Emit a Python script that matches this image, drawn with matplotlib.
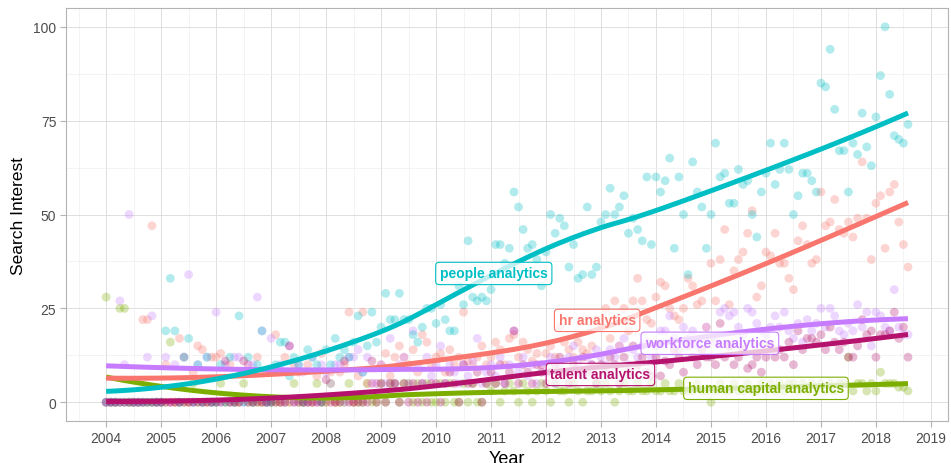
import numpy as np
import matplotlib
matplotlib.use("Agg")
import matplotlib.pyplot as plt
from matplotlib.ticker import MultipleLocator

plt.rcParams['font.family'] = ['Liberation Sans', 'DejaVu Sans']

# monthly Google Trends style values, Jan 2004 - Aug 2018
people = [
    0, 0, 0, 0, 0, 0, 0, 0, 0, 0, 0, 0,
    0, 19, 33, 19, 0, 12, 17, 0, 10, 0, 12, 0,
    0, 10, 0, 12, 0, 23, 0, 12, 0, 10, 19, 0,
    0, 10, 16, 16, 7, 12, 10, 0, 14, 12, 10, 0,
    14, 10, 17, 12, 14, 12, 16, 23, 8, 15, 24, 16,
    20, 29, 22, 22, 29, 22, 22, 18, 16, 20, 25, 25,
    21, 26, 22, 19, 19, 31, 26, 43, 28, 27, 28, 27,
    30, 42, 42, 37, 41, 56, 52, 46, 41, 42, 38, 31,
    40, 50, 45, 49, 47, 36, 42, 33, 34, 52, 34, 36,
    48, 50, 57, 50, 52, 55, 45, 49, 46, 43, 60, 42,
    60, 56, 59, 65, 41, 60, 50, 34, 64, 56, 52, 41,
    50, 69, 60, 61, 53, 53, 62, 58, 59, 50, 44, 56,
    61, 69, 58, 62, 69, 62, 50, 55, 61, 61, 59, 56,
    85, 84, 94, 78, 67, 67, 56, 69, 66, 77, 68, 63,
    76, 87, 100, 82, 71, 70, 69, 74,
]
hr = [
    0, 0, 0, 0, 0, 0, 0, 0, 22, 22, 47, 0,
    0, 10, 0, 0, 17, 12, 0, 8, 15, 14, 0, 12,
    12, 13, 0, 10, 0, 0, 8, 10, 0, 12, 0, 0,
    8, 18, 0, 12, 0, 10, 8, 0, 10, 0, 7, 13,
    0, 8, 0, 8, 10, 24, 0, 7, 24, 5, 5, 5,
    10, 13, 7, 12, 15, 12, 10, 14, 8, 18, 16, 10,
    12, 13, 8, 14, 10, 12, 24, 11, 10, 12, 15, 10,
    12, 16, 14, 10, 17, 18, 12, 16, 14, 11, 13, 10,
    13, 15, 12, 20, 16, 14, 12, 16, 14, 13, 15, 22,
    20, 25, 17, 27, 15, 25, 19, 27, 33, 27, 22, 21,
    28, 32, 31, 25, 23, 22, 25, 33, 31, 26, 27, 20,
    37, 27, 38, 46, 26, 35, 38, 40, 45, 51, 28, 31,
    40, 39, 45, 37, 37, 33, 30, 43, 47, 42, 37, 38,
    56, 47, 48, 54, 46, 45, 48, 44, 49, 64, 49, 38,
    53, 55, 41, 56, 58, 48, 42, 36,
]
workforce = [
    0, 0, 0, 27, 10, 50, 0, 0, 0, 12, 23, 0,
    0, 12, 0, 10, 0, 12, 34, 0, 10, 0, 12, 0,
    24, 0, 10, 0, 12, 12, 0, 10, 10, 28, 19, 0,
    17, 9, 10, 0, 15, 0, 10, 8, 0, 12, 0, 10,
    8, 5, 10, 10, 0, 12, 12, 14, 8, 12, 5, 5,
    10, 5, 17, 5, 10, 12, 5, 19, 10, 5, 12, 7,
    10, 15, 5, 10, 8, 5, 10, 7, 11, 17, 5, 8,
    10, 7, 12, 5, 10, 19, 8, 12, 7, 10, 5, 10,
    8, 12, 5, 10, 8, 12, 15, 10, 7, 12, 10, 14,
    12, 10, 14, 12, 15, 17, 10, 14, 12, 15, 16, 12,
    15, 19, 19, 23, 17, 14, 20, 17, 19, 15, 17, 20,
    17, 16, 24, 25, 23, 24, 20, 18, 25, 24, 21, 19,
    18, 20, 23, 20, 24, 19, 17, 21, 16, 22, 19, 21,
    25, 20, 25, 23, 19, 18, 21, 19, 26, 20, 24, 15,
    24, 23, 20, 19, 30, 20, 18, 18,
]
talent = [
    0, 0, 0, 0, 0, 0, 0, 0, 0, 0, 0, 0,
    0, 0, 0, 0, 0, 0, 0, 0, 0, 0, 0, 0,
    0, 0, 11, 0, 0, 0, 11, 0, 0, 0, 0, 0,
    0, 0, 0, 0, 15, 0, 0, 0, 0, 0, 0, 0,
    6, 0, 0, 0, 11, 0, 0, 0, 0, 0, 11, 0,
    5, 0, 5, 5, 0, 5, 0, 5, 0, 5, 0, 5,
    5, 0, 5, 8, 5, 0, 10, 5, 5, 8, 0, 5,
    8, 5, 10, 5, 8, 19, 5, 10, 8, 5, 10, 8,
    5, 8, 10, 12, 8, 5, 10, 8, 12, 8, 10, 5,
    10, 8, 12, 10, 5, 12, 8, 15, 10, 12, 8, 7,
    12, 7, 11, 10, 14, 12, 8, 15, 12, 10, 14, 12,
    12, 10, 21, 12, 15, 10, 12, 14, 9, 10, 12, 8,
    12, 15, 12, 14, 12, 16, 10, 19, 14, 17, 17, 16,
    18, 14, 20, 16, 14, 16, 12, 12, 15, 22, 18, 19,
    12, 18, 18, 19, 24, 17, 20, 12,
]
human_capital = [
    28, 0, 0, 25, 25, 0, 0, 0, 0, 0, 0, 0,
    0, 0, 16, 0, 0, 0, 0, 5, 0, 0, 0, 0,
    0, 5, 0, 0, 0, 0, 5, 0, 0, 0, 0, 0,
    0, 0, 0, 0, 0, 5, 0, 0, 0, 0, 5, 0,
    0, 5, 0, 0, 0, 5, 0, 0, 0, 5, 0, 0,
    5, 0, 5, 5, 0, 5, 5, 0, 5, 0, 5, 0,
    0, 5, 0, 5, 0, 0, 5, 0, 5, 0, 0, 5,
    3, 5, 0, 3, 5, 3, 0, 5, 3, 0, 3, 5,
    3, 0, 5, 3, 3, 0, 5, 3, 0, 3, 3, 5,
    3, 5, 3, 0, 3, 5, 3, 3, 5, 3, 3, 5,
    3, 3, 5, 3, 3, 5, 3, 3, 3, 5, 3, 3,
    0, 3, 5, 3, 3, 5, 3, 3, 5, 3, 3, 5,
    3, 5, 3, 5, 3, 5, 5, 3, 5, 3, 5, 3,
    5, 3, 5, 3, 5, 5, 12, 3, 5, 5, 3, 5,
    3, 8, 5, 5, 5, 4, 4, 3,
]

terms = ["human capital analytics", "hr analytics", "workforce analytics",
         "people analytics", "talent analytics"]
series = [human_capital, hr, workforce, people, talent]
colors = ["#7CAE00", "#F8766D", "#C77CFF", "#00BFC4", "#B5126E"]
# label anchor (year, value)
label_x = [2016.0, 2012.93, 2014.98, 2011.05, 2012.99]
label_y = [3.7, 21.8, 15.7, 34.3, 7.4]

years = 2004 + np.arange(len(people)) / 12.0


def loess(x, y, xs, span=0.75):
    # local quadratic fit with tricube weights, like R's loess defaults
    n = len(x)
    q = int(np.floor(span * n))
    out = []
    for x0 in xs:
        d = np.abs(x - x0)
        h = np.sort(d)[q - 1]
        w = np.clip(1 - (d / h) ** 3, 0, None) ** 3
        X = np.column_stack([np.ones(n), x - x0, (x - x0) ** 2])
        W = np.sqrt(w)
        beta = np.linalg.lstsq(X * W[:, None], y * W, rcond=None)[0]
        out.append(beta[0])
    return np.array(out)


fig = plt.figure(figsize=(9.51, 4.64), dpi=100)
ax = fig.add_axes([0.0694, 0.0905, 0.9274, 0.8901])

for vals, c in zip(series, colors):
    ax.scatter(years, vals, s=40, color=c, alpha=0.3, edgecolors='none', zorder=2)

xs = np.linspace(years[0], years[-1], 120)
for vals, c in zip(series, colors):
    ax.plot(xs, loess(years, np.array(vals, float), xs), color=c, lw=3.6,
            solid_capstyle='butt', zorder=3)

for name, c, lx, ly in zip(terms, colors, label_x, label_y):
    ax.text(lx, ly, name, color=c, fontsize=10, fontweight='bold',
            ha='center', va='center', zorder=5,
            bbox=dict(boxstyle='round,pad=0.3,rounding_size=0.25', fc=(1, 1, 1, 0.75),
                      ec=c, lw=0.8))

ax.set_xlim(2003.27, 2019.31)
ax.set_ylim(-5, 105)
ax.set_xticks(np.arange(2004, 2020))
ax.xaxis.set_minor_locator(MultipleLocator(0.5))
ax.set_yticks([0, 25, 50, 75, 100])
ax.yaxis.set_minor_locator(MultipleLocator(12.5))

ax.grid(which='major', color='#DEDEDE', lw=0.7, zorder=0)
ax.grid(which='minor', color='#EFEFEF', lw=0.5, zorder=0)
ax.set_axisbelow(True)
for sp in ax.spines.values():
    sp.set_color('#B3B3B3')
    sp.set_linewidth(0.8)
ax.tick_params(which='major', length=4, color='#B3B3B3', labelsize=10,
               labelcolor='#4D4D4D', pad=3)
ax.tick_params(which='minor', length=0)

ax.set_xlabel('Year', fontsize=13, labelpad=4)
ax.set_ylabel('Search Interest', fontsize=12.5, labelpad=5)

fig.savefig('out.png', dpi=100)
